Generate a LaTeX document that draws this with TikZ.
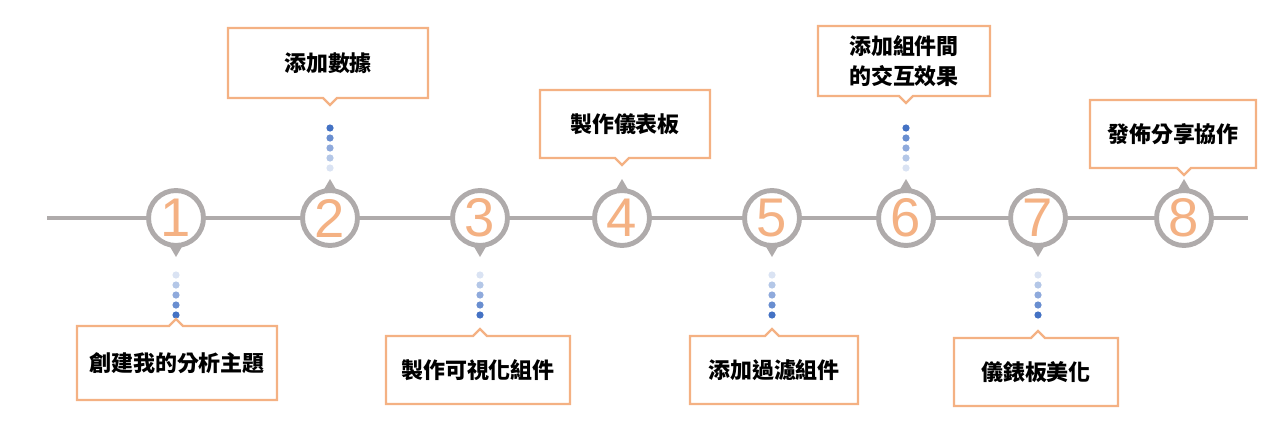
\documentclass[tikz,border=0pt]{standalone}
\usepackage{fontspec}
\setmainfont{Liberation Sans}
\newfontfamily\cjk{Noto Sans CJK TC}
\usetikzlibrary{calc}
\definecolor{stepor}{HTML}{F4B183}
\definecolor{stepgray}{HTML}{AFABAB}
\definecolor{dotblue}{HTML}{4472C4}
\begin{document}
\begin{tikzpicture}[x=0.02cm, y=-0.02cm,
        numring/.style={circle, draw=stepgray, line width=2.8pt, fill=white, minimum size=1.1cm, inner sep=0pt, text=stepor, font=\fontsize{31}{31}\selectfont},
        tip/.style={fill=stepgray, draw=none},
        label/.style={inner sep=0pt, align=center, font=\cjk\bfseries\fontsize{12.5}{17}\selectfont},
        frame/.style={draw=stepor, line width=1.3pt, fill=white, line join=miter}
    ]
        \useasboundingbox (0,0) rectangle (1280,436);

        % time line
        \coordinate (lineL) at (47,218);
        \coordinate (lineR) at (1248,218);
        \draw[stepgray, line width=2pt] (lineL) -- (lineR);

        % steps: number/x/box left/box right/box top/box bottom/up or down/text
        \foreach \n/\x/\bl/\br/\bt/\bb/\dir/\txt in {
            1/176/77/277/326/400/1/創建我的分析主題,
            2/330/228/428/28/98/-1/添加數據,
            3/480/386/570/336/404/1/製作可視化組件,
            4/622/540/710/90/158/-1/製作儀表板,
            5/772/690/858/336/404/1/添加過濾組件,
            6/906/818/990/26/96/-1/{添加組件間\\的交互效果},
            7/1038/954/1118/338/406/1/儀錶板美化,
            8/1184/1090/1256/100/168/-1/發佈分享協作} {
            % pointer of the ring
            \fill[tip] (\x-7,218+\dir*27) -- (\x,218+\dir*39) -- (\x+7,218+\dir*27) -- cycle;
            \node[numring] (s\n) at (\x,218) {\n};
            % dotted link
            \ifnum\n=4\else
            \foreach \k [evaluate=\k as \shade using {20+20*\k}] in {0,...,4}
                \fill[dotblue!\shade] (\x,{ \dir>0 ? 275+10*\k : 168-10*\k }) circle (3.6);
            \fi
            % callout box with notch
            \ifnum\dir=1
                \draw[frame] (\bl,\bt) -- (\x-7,\bt) -- (\x,\bt-7) -- (\x+7,\bt) -- (\br,\bt)
                    -- (\br,\bb) -- (\bl,\bb) -- cycle;
            \else
                \draw[frame] (\bl,\bt) -- (\br,\bt) -- (\br,\bb) -- (\x+7,\bb) -- (\x,\bb+7)
                    -- (\x-7,\bb) -- (\bl,\bb) -- cycle;
            \fi
            \node[label] (t\n) at ({(\bl+\br)/2},{(\bt+\bb)/2}) {\txt};
        }
    \end{tikzpicture}
\end{document}
